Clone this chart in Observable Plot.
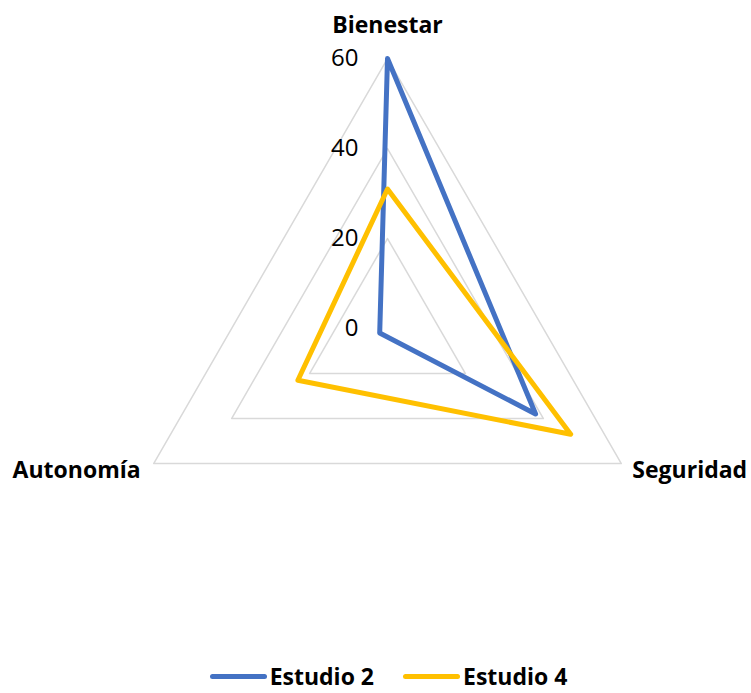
<!DOCTYPE html>
<html>
<head>
<meta charset="utf-8">
<script src="https://cdn.jsdelivr.net/npm/d3@7"></script>
<script src="https://cdn.jsdelivr.net/npm/@observablehq/plot@0.6"></script>
<style>
  html, body { margin: 0; padding: 0; background: #fff; overflow: hidden; }
  body { width: 751px; font-family: "Open Sans", sans-serif; }
  #legend { display: flex; justify-content: center; align-items: center; box-sizing: border-box; height: 33px; padding: 0 0 0 26px; gap: 29px; font-weight: 700; font-size: 23px; line-height: 31px; color: #000; }
  #legend .item { display: flex; align-items: center; }
  #legend .swatch { width: 57px; height: 5px; border-radius: 3px; margin-right: 3px; }
</style>
</head>
<body>
<div id="chart"></div>
<div id="legend"></div>
<script>
// Radar axes, clockwise from the top
const axes = ["Bienestar", "Seguridad", "Autonomía"];
const angles = [90, -30, 210];           // degrees, counter-clockwise from east
const series = ["Estudio 2", "Estudio 4"];
const estudio2 = [60, 38, 2];
const estudio4 = [31, 47, 23];
const ticks = [0, 20, 40, 60];
const colors = ["#4472C4", "#FFC000"];

const W = 751, H = 660;
const cx = 387, cy = 328, pxPerUnit = 4.5;

const polar = (v, i) => {
  const a = angles[i] * Math.PI / 180;
  return {x: v * Math.cos(a), y: v * Math.sin(a)};
};

const rows = [];
series.forEach((s, k) => {
  const vals = k === 0 ? estudio2 : estudio4;
  vals.forEach((v, i) => rows.push({serie: s, axis: axes[i], value: v, ...polar(v, i)}));
});

const rings = [];
ticks.filter(t => t > 0).forEach(t => axes.forEach((a, i) => rings.push({ring: t, ...polar(t, i)})));

const tickLabels = ticks.map(t => ({t, x: 0, y: t}));
const axisLabels = axes.map((a, i) => ({label: a, ...polar(60, i)}));

const chart = Plot.plot({
  width: W,
  height: H,
  margin: 0,
  style: {fontFamily: "Open Sans, sans-serif", background: "#fff"},
  x: {domain: [-cx / pxPerUnit, (W - cx) / pxPerUnit], axis: null},
  y: {domain: [-(H - cy) / pxPerUnit, cy / pxPerUnit], axis: null},
  color: {domain: series, range: colors},
  marks: [
    Plot.line(rings, {x: "x", y: "y", z: "ring", curve: "linear-closed", stroke: "#d9d9d9", strokeWidth: 1.5}),
    Plot.text(tickLabels, {x: "x", y: "y", text: d => String(d.t), dx: -29, textAnchor: "end", fontSize: 24, fill: "#000"}),
    Plot.text(axisLabels.filter(d => d.label === "Bienestar"), {x: "x", y: "y", text: "label", dy: -33, fontSize: 23, fontWeight: 700, fill: "#000"}),
    Plot.text(axisLabels.filter(d => d.label === "Autonomía"), {x: "x", y: "y", text: "label", dx: -13, dy: 7, textAnchor: "end", fontSize: 23, fontWeight: 700, fill: "#000"}),
    Plot.text(axisLabels.filter(d => d.label === "Seguridad"), {x: "x", y: "y", text: "label", dx: 11, dy: 7, textAnchor: "start", fontSize: 23, fontWeight: 700, fill: "#000"}),
    Plot.line(rows, {x: "x", y: "y", z: "serie", stroke: "serie", curve: "linear-closed", strokeWidth: 5, strokeLinejoin: "round"})
  ]
});
document.getElementById("chart").appendChild(chart);

const legend = document.getElementById("legend");
series.forEach((s, k) => {
  const item = document.createElement("div");
  item.className = "item";
  const sw = document.createElement("span");
  sw.className = "swatch";
  sw.style.background = colors[k];
  const label = document.createElement("span");
  label.textContent = s;
  item.appendChild(sw);
  item.appendChild(label);
  legend.appendChild(item);
});
</script>
</body>
</html>
